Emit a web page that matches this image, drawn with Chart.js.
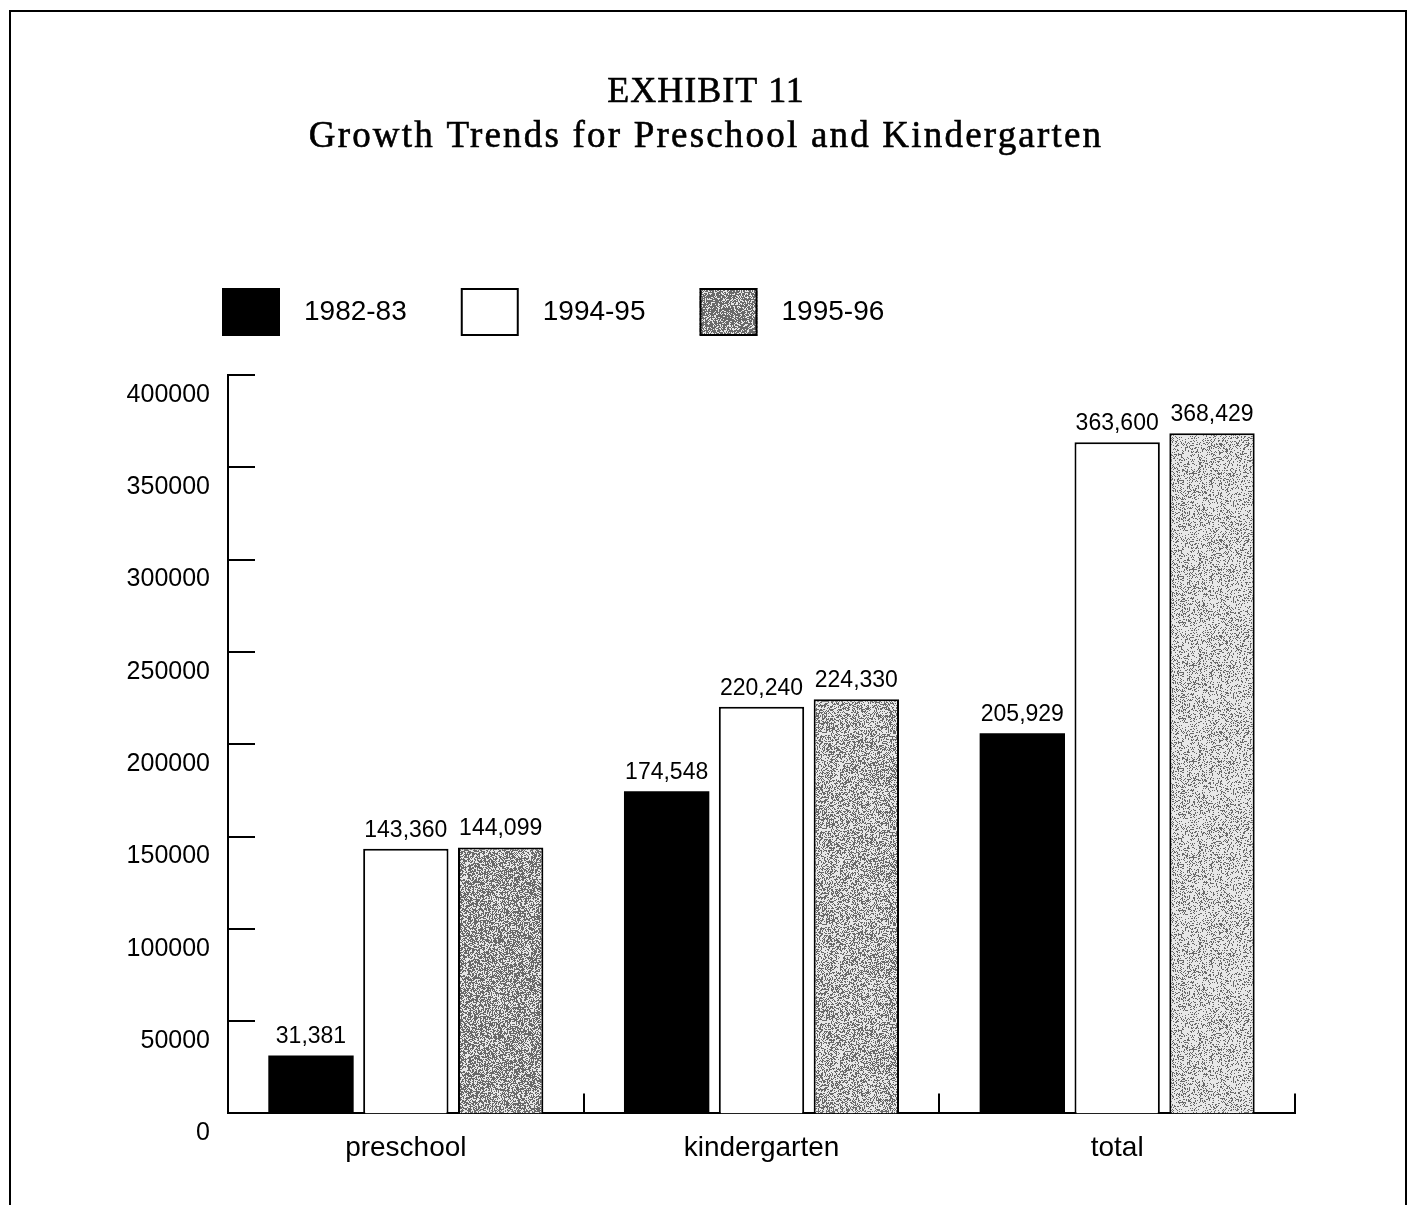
<!DOCTYPE html>
<html>
<head>
<meta charset="utf-8">
<title>Exhibit 11</title>
<script src="https://cdn.jsdelivr.net/npm/chart.js@4/dist/chart.umd.min.js"></script>
<style>
	html, body { margin: 0; padding: 0; background: #fff; }
	#chart { display: block; }
</style>
</head>
<body>
<canvas id="chart" width="1412" height="1205"></canvas>
<script>
const categories = ["preschool", "kindergarten", "total"];
const seriesNames = ["1982-83", "1994-95", "1995-96"];
const values1982 = [31381, 174548, 205929];
const values1994 = [143360, 220240, 363600];
const values1995 = [144099, 224330, 368429];
const titleLines = ["EXHIBIT 11", "Growth Trends for Preschool and Kindergarten"];

const SANS = '"Liberation Sans", Arial, Helvetica, sans-serif';
const SERIF = '"Liberation Serif", "Times New Roman", serif';

// cheap integer hash, used only for the halftone texture
const hash = function(x, y) {
	let n = Math.imul(x, 374761393) + Math.imul(y, 668265263);
	n = Math.imul(n ^ (n >>> 13), 1274126177);
	n = n ^ (n >>> 16);
	return (n >>> 0) / 4294967296;
}

// grey screen-printed look: dark and light dots mixed to an average tone
const stipple = function(ctx, tone, seed) {
	const size = 96;
	const c = document.createElement("canvas");
	c.width = c.height = size;
	const g = c.getContext("2d");
	const img = g.createImageData(size, size);
	const lo = 105, hi = 232;
	const p = (tone - lo) / (hi - lo);
	for (let y = 0; y < size; y++) {
		for (let x = 0; x < size; x++) {
			const h = hash(x + seed, y * 3 + seed);
			const v = h < p ? hi : lo;
			const i = (y * size + x) * 4;
			img.data[i] = img.data[i + 1] = img.data[i + 2] = v;
			img.data[i + 3] = 255;
		}
	}
	g.putImageData(img, 0, 0);
	return ctx.createPattern(c, "repeat");
}

const canvas = document.getElementById("chart");
const ctx = canvas.getContext("2d");
const greyBars = [stipple(ctx, 160, 11), stipple(ctx, 178, 23), stipple(ctx, 200, 37)];
const greyLegend = stipple(ctx, 145, 5);

const framePlugin = {
	id: "frame",
	beforeDraw(chart) {
		const c = chart.ctx;
		c.save();
		c.fillStyle = "#fff";
		c.fillRect(0, 0, chart.width, chart.height);
		c.strokeStyle = "#000";
		c.lineWidth = 2;
		c.beginPath();
		c.moveTo(10, chart.height);
		c.lineTo(10, 11);
		c.lineTo(1406, 11);
		c.lineTo(1406, chart.height);
		c.stroke();
		c.restore();
	}
}

// title centred on the page, second line printed a little spaced out
const pageTitle = {
	id: "pageTitle",
	afterDraw(chart) {
		const c = chart.ctx;
		const cx = chart.width / 2;
		c.save();
		c.fillStyle = "#000";
		c.strokeStyle = "#000";
		c.lineWidth = 0.6;
		c.textAlign = "center";
		c.textBaseline = "middle";
		c.font = "36px " + SERIF;
		c.letterSpacing = "1px";
		c.fillText(titleLines[0], cx, 93);
		c.strokeText(titleLines[0], cx, 93);
		c.font = "37px " + SERIF;
		c.letterSpacing = "2.2px";
		c.fillText(titleLines[1], cx, 137);
		c.strokeText(titleLines[1], cx, 137);
		c.restore();
	}
}

// tick marks point into the plot, like the printed original
const innerTicks = {
	id: "innerTicks",
	afterDraw(chart) {
		const c = chart.ctx;
		const {left, bottom} = chart.chartArea;
		const xs = chart.scales.x, ys = chart.scales.y;
		c.save();
		c.strokeStyle = "#000";
		c.lineWidth = 2;
		c.beginPath();
		for (let t of ys.ticks) {
			if (t.value === 0) continue;
			const py = Math.round(ys.getPixelForValue(t.value));
			c.moveTo(left, py);
			c.lineTo(left + 27, py);
		}
		const half = (xs.getPixelForValue(1) - xs.getPixelForValue(0)) / 2;
		for (let i = 0; i < categories.length; i++) {
			const px = Math.round(xs.getPixelForValue(i) + half);
			c.moveTo(px, bottom);
			c.lineTo(px, bottom - 20);
		}
		c.stroke();
		c.restore();
	}
}

const valueLabels = {
	id: "valueLabels",
	afterDatasetsDraw(chart) {
		const c = chart.ctx;
		c.save();
		c.fillStyle = "#000";
		c.font = "23px " + SANS;
		c.textAlign = "center";
		c.textBaseline = "alphabetic";
		chart.data.datasets.forEach((ds, i) => {
			chart.getDatasetMeta(i).data.forEach((bar, j) => {
				c.fillText(ds.data[j].toLocaleString("en-US"), bar.x, bar.y - 12);
			});
		});
		c.restore();
	}
}

const boxLegend = {
	id: "boxLegend",
	afterDraw(chart) {
		const c = chart.ctx;
		const {left, top} = chart.chartArea;
		const fills = ["#000", "#fff", greyLegend];
		c.save();
		c.font = "28px " + SANS;
		c.textBaseline = "middle";
		let x = left - 6;
		const y = top - 87;
		seriesNames.forEach((name, i) => {
			c.fillStyle = fills[i];
			c.fillRect(x, y, 58, 48);
			c.strokeStyle = "#000";
			c.lineWidth = 2;
			c.strokeRect(x + 1, y + 1, 56, 46);
			c.fillStyle = "#000";
			c.fillText(name, x + 82, y + 24);
			x += 82 + c.measureText(name).width + 54;
		});
		c.restore();
	}
}

new Chart(ctx, {
	type: "bar",
	data: {
		labels: categories,
		datasets: [
			{label: seriesNames[0], data: values1982, backgroundColor: "#000", borderColor: "#000", borderWidth: 0},
			{label: seriesNames[1], data: values1994, backgroundColor: "#fff", borderColor: "#000", borderWidth: 2},
			{label: seriesNames[2], data: values1995, backgroundColor: greyBars, borderColor: "#000", borderWidth: 2},
		]
	},
	options: {
		responsive: false,
		animation: false,
		layout: {padding: {left: 0, right: 117, top: 375, bottom: 22}},
		plugins: {
			legend: {display: false},
			tooltip: {enabled: false},
			title: {display: false}
		},
		scales: {
			x: {
				grid: {display: false, drawTicks: false},
				border: {display: true, color: "#000", width: 2},
				ticks: {color: "#000", font: {family: SANS, size: 28}, padding: 18}
			},
			y: {
				min: 0,
				max: 400000,
				afterFit(scale) { scale.width = 228; },
				grid: {display: false, drawTicks: false},
				border: {display: true, color: "#000", width: 2},
				ticks: {
					stepSize: 50000,
					color: "#000",
					font: {family: SANS, size: 25},
					padding: 18,
					labelOffset: 20,
					callback: (v) => String(v)
				}
			}
		}
	},
	plugins: [framePlugin, pageTitle, innerTicks, valueLabels, boxLegend]
});
</script>
</body>
</html>
